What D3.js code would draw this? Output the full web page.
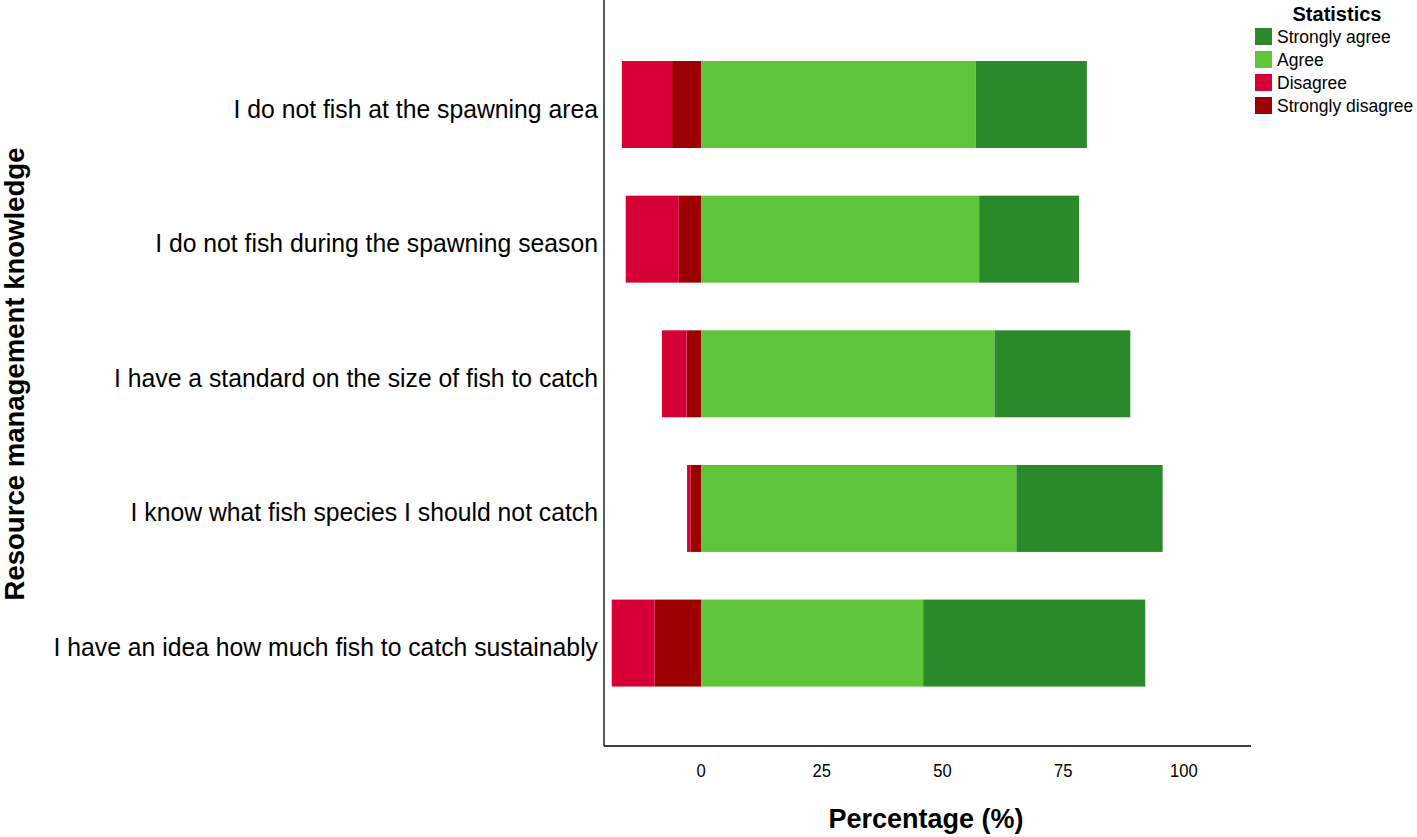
<!DOCTYPE html>
<html>
<head>
<meta charset="utf-8">
<script src="https://cdn.jsdelivr.net/npm/d3@7"></script>
<style>
  body { margin: 0; background: #fff; }
  text { font-family: "Liberation Sans", Arial, sans-serif; fill: #000; }
</style>
</head>
<body>
<div id="chart"></div>
<script>
// data (percent)
const statements = [
  "I do not fish at the spawning area",
  "I do not fish during the spawning season",
  "I have a standard on the size of fish to catch",
  "I know what fish species I should not catch",
  "I have an idea how much fish to catch sustainably"
];
const stronglyAgree = [23.0, 20.7, 28.1, 30.3, 46.0];
const agree = [56.9, 57.6, 60.8, 65.3, 46.0];
const disagree = [10.4, 11.0, 5.1, 0.7, 8.9];
const stronglyDisagree = [6.0, 4.6, 3.0, 2.2, 9.6];
const xTicks = [0, 25, 50, 75, 100];
const legendLabels = ["Strongly agree", "Agree", "Disagree", "Strongly disagree"];
const colors = ["#2a8a2a", "#5ec43a", "#d70036", "#9c0000"];

var width = 1417, height = 837;
var left = 604, right = 1251, bottom = 746;

var svg = d3.select("#chart").append("svg")
  .attr("width", width)
  .attr("height", height);

var x = d3.scaleLinear().domain([-20.1, 113.9]).range([left, right]);
var y = d3.scaleBand().domain(statements)
  .range([37.2, 710.4])
  .paddingInner(0.354)
  .paddingOuter(0.177);

// build segments: negatives stack left from zero, positives right
var segs = [];
statements.forEach(function(s, i) {
  var sd = stronglyDisagree[i], d = disagree[i], a = agree[i], sa = stronglyAgree[i];
  segs.push({s: s, x0: -sd, x1: 0, c: colors[3]});
  segs.push({s: s, x0: -sd - d, x1: -sd, c: colors[2]});
  segs.push({s: s, x0: 0, x1: a, c: colors[1]});
  segs.push({s: s, x0: a, x1: a + sa, c: colors[0]});
});

svg.selectAll("rect.bar")
  .data(segs)
  .enter().append("rect")
  .attr("class", "bar")
  .attr("x", function(d) { return x(d.x0); })
  .attr("width", function(d) { return x(d.x1) - x(d.x0); })
  .attr("y", function(d) { return y(d.s); })
  .attr("height", y.bandwidth())
  .style("fill", function(d) { return d.c; });

// axis lines
svg.append("line")
  .attr("x1", left).attr("x2", left).attr("y1", 0).attr("y2", bottom)
  .style("stroke", "#000").style("stroke-width", 1.3);
svg.append("line")
  .attr("x1", left).attr("x2", right).attr("y1", bottom).attr("y2", bottom)
  .style("stroke", "#000").style("stroke-width", 1.3);

// x tick labels (no tick marks)
svg.selectAll("text.xtick")
  .data(xTicks)
  .enter().append("text")
  .attr("class", "xtick")
  .attr("transform", function(d) { return "translate(" + x(d) + ",777) scale(0.95,1)"; })
  .style("text-anchor", "middle")
  .style("font-size", "17.5px")
  .text(function(d) { return d; });

// y category labels
svg.selectAll("text.ytick")
  .data(statements)
  .enter().append("text")
  .attr("class", "ytick")
  .attr("transform", function(d) {
    return "translate(598," + (y(d) + y.bandwidth() / 2 + 13) + ") scale(0.99,1)";
  })
  .style("text-anchor", "end")
  .style("font-size", "25px")
  .text(function(d) { return d; });

// axis titles
svg.append("text")
  .attr("transform", "translate(926,828)")
  .style("text-anchor", "middle")
  .style("font-size", "27px")
  .style("font-weight", "bold")
  .text("Percentage (%)");

svg.append("text")
  .attr("transform", "translate(24,374) rotate(-90) scale(1.02,1)")
  .style("text-anchor", "middle")
  .style("font-size", "27px")
  .style("font-weight", "bold")
  .text("Resource management knowledge");

// legend
var legend = svg.append("g").attr("transform", "translate(1255,0)");
legend.append("text")
  .attr("x", 82).attr("y", 21)
  .style("text-anchor", "middle")
  .style("font-size", "20px")
  .style("font-weight", "bold")
  .text("Statistics");

var keys = legend.selectAll("g.key")
  .data(legendLabels)
  .enter().append("g")
  .attr("class", "key")
  .attr("transform", function(d, i) { return "translate(0," + (28 + i * 23) + ")"; });
keys.append("rect")
  .attr("width", 17).attr("height", 17)
  .style("fill", function(d, i) { return colors[i]; });
keys.append("text")
  .attr("x", 22).attr("y", 15)
  .style("font-size", "17.5px")
  .text(function(d) { return d; });
</script>
</body>
</html>
